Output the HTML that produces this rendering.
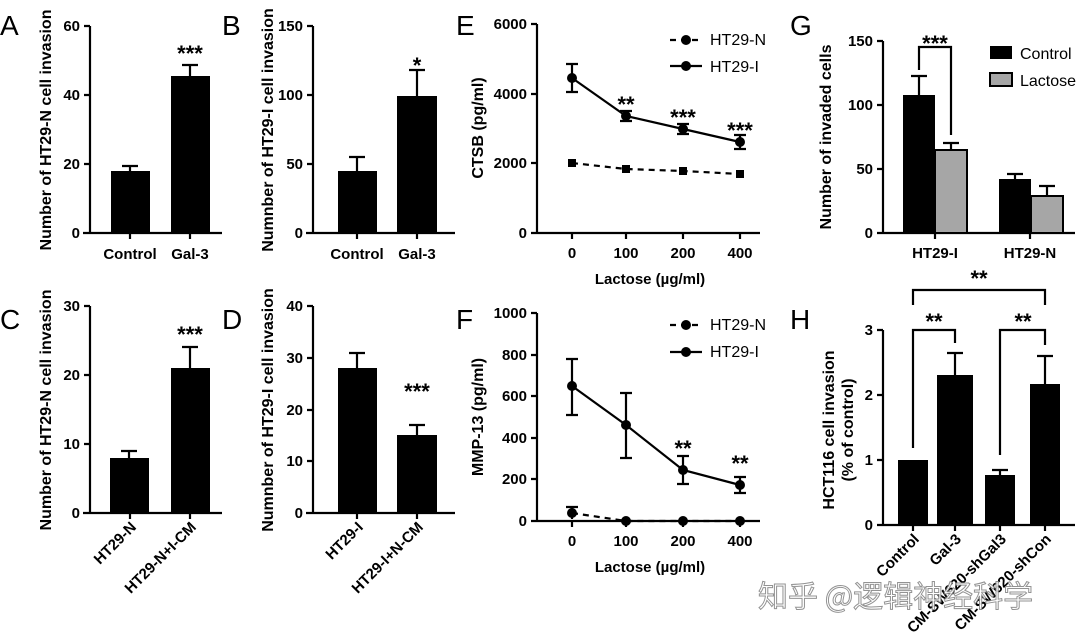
<!DOCTYPE html>
<html><head><meta charset="utf-8"><style>
body{margin:0;background:#fff}
svg{display:block;font-family:"Liberation Sans",Arial,sans-serif;font-weight:bold}
</style></head><body>
<svg width="1080" height="637" viewBox="0 0 1080 637" xmlns="http://www.w3.org/2000/svg">
<g font-weight="normal" font-size="28" fill="#000">
<text x="0" y="35">A</text><text x="222" y="35">B</text>
<text x="0" y="329">C</text><text x="222" y="329">D</text>
<text x="456" y="35">E</text><text x="456" y="329">F</text>
<text x="790" y="35">G</text><text x="790" y="329">H</text>
</g>
<g stroke="#000" stroke-width="2.2" fill="none">
<path d="M90 26V233M83 233H222M84 26H90M84 95H90M84 164H90M84 233H90M130 233v6M190 233v6"/>
<path d="M130 171V166M122 166H138M190 76V65M182 65H198"/>
<path d="M313 26V233M306 233H455M307 26H313M307 95H313M307 164H313M307 233H313M357 233v6M417 233v6"/>
<path d="M357 171V157M349 157H365M417 96V70M409 70H425"/>
<path d="M90 306V513M83 513H222M84 306H90M84 375H90M84 444H90M84 513H90M130 513v6M190 513v6"/>
<path d="M129 458V451M121 451H137M190 368V347M182 347H198"/>
<path d="M313 306V513M306 513H455M307 306H313M307 358H313M307 410H313M307 461H313M307 513H313M357 513v6M417 513v6"/>
<path d="M357 368V353M349 353H365M417 435V425M409 425H425"/>
<path d="M537 24V233M537 233H760M531 24H537M531 94H537M531 163H537M531 233H537M572 233v6M626 233v6M683 233v6M740 233v6"/>
<path d="M572 78L626 116L683 129L740 142"/>
<path d="M572 163L626 169L683 171L740 174" stroke-dasharray="6,5"/>
<path d="M572 64V92M566 64H578M566 92H578M626 111V121M620 111H632M620 121H632M683 124V134M677 124H689M677 134H689M740 135V149M734 135H746M734 149H746"/>
<path d="M670 40H702" stroke-dasharray="6,5"/><path d="M670 66H702"/>
<path d="M537 313V521M537 521H760M531 313H537M531 355H537M531 396H537M531 438H537M531 479H537M531 521H537M572 521v6M626 521v6M683 521v6M740 521v6"/>
<path d="M572 386L626 425L683 470L740 485"/>
<path d="M572 513L626 521L683 521L740 521" stroke-dasharray="6,5"/>
<path d="M572 359V415M566 359H578M566 415H578M626 393V458M620 393H632M620 458H632M683 456V484M677 456H689M677 484H689M740 477V493M734 477H746M734 493H746M572 507V519M566 507H578"/>
<path d="M670 325H702" stroke-dasharray="6,5"/><path d="M670 352H702"/>
<path d="M883 41V233M883 233H1075M877 41H883M877 105H883M877 169H883M877 233H883M935 233v6M1030 233v6"/>
<path d="M919 95V76M911 76H927M951 143V157M943 143H959M943 157H959M1015 179V174M1007 174H1023M1047 186V205M1039 186H1055M1039 205H1055"/>
<path d="M919 70V47H951V135"/>
<path d="M883 330V525M883 525H1075M877 330H883M877 395H883M877 460H883M877 525H883M913 525v6M955 525v6M1000 525v6M1045 525v6"/>
<path d="M955 375V353M947 353H963M1000 475V470M992 470H1008M1045 384V356M1037 356H1053"/>
<path d="M913 448V330H955V343M1000 455V330H1045V345M913 305V290H1045V305"/>
</g>
<g fill="#000">
<rect x="111" y="171" width="39" height="62"/><rect x="171" y="76" width="39" height="157"/>
<rect x="338" y="171" width="39" height="62"/><rect x="397" y="96" width="40" height="137"/>
<rect x="110" y="458" width="39" height="55"/><rect x="171" y="368" width="39" height="145"/>
<rect x="338" y="368" width="39" height="145"/><rect x="397" y="435" width="40" height="78"/>
<circle cx="572" cy="78" r="5"/><circle cx="626" cy="116" r="5"/><circle cx="683" cy="129" r="5"/><circle cx="740" cy="142" r="5"/>
<rect x="568" y="159" width="8" height="8"/><rect x="622" y="165" width="8" height="8"/><rect x="679" y="167" width="8" height="8"/><rect x="736" y="170" width="8" height="8"/>
<circle cx="686" cy="40" r="5"/><circle cx="686" cy="66" r="5"/>
<circle cx="572" cy="386" r="5"/><circle cx="626" cy="425" r="5"/><circle cx="683" cy="470" r="5"/><circle cx="740" cy="485" r="5"/>
<circle cx="572" cy="513" r="5"/><circle cx="626" cy="521" r="5"/><circle cx="683" cy="521" r="5"/><circle cx="740" cy="521" r="5"/>
<circle cx="686" cy="325" r="5"/><circle cx="686" cy="352" r="5"/>
<rect x="903" y="95" width="32" height="138"/><rect x="999" y="179" width="32" height="54"/>
<rect x="898" y="460" width="30" height="65"/><rect x="937" y="375" width="36" height="150"/><rect x="985" y="475" width="30" height="50"/><rect x="1030" y="384" width="30" height="141"/>
</g>
<g fill="#a6a6a6" stroke="#000" stroke-width="2">
<rect x="935" y="150" width="32" height="83"/><rect x="1031" y="196" width="32" height="37"/>
<rect x="990" y="73" width="22" height="13"/>
</g>
<rect x="990" y="46" width="22" height="13" fill="#000"/>
<g font-size="15" text-anchor="end">
<text x="80" y="31">60</text><text x="80" y="100">40</text><text x="80" y="169">20</text><text x="80" y="238">0</text>
<text x="303" y="31">150</text><text x="303" y="100">100</text><text x="303" y="169">50</text><text x="303" y="238">0</text>
<text x="80" y="311">30</text><text x="80" y="380">20</text><text x="80" y="449">10</text><text x="80" y="518">0</text>
<text x="303" y="311">40</text><text x="303" y="363">30</text><text x="303" y="415">20</text><text x="303" y="466">10</text><text x="303" y="518">0</text>
<text x="527" y="29">6000</text><text x="527" y="99">4000</text><text x="527" y="168">2000</text><text x="527" y="238">0</text>
<text x="527" y="318">1000</text><text x="527" y="360">800</text><text x="527" y="401">600</text><text x="527" y="443">400</text><text x="527" y="484">200</text><text x="527" y="526">0</text>
<text x="873" y="46">150</text><text x="873" y="110">100</text><text x="873" y="174">50</text><text x="873" y="238">0</text>
<text x="873" y="335">3</text><text x="873" y="400">2</text><text x="873" y="465">1</text><text x="873" y="530">0</text>
</g>
<g font-size="15" text-anchor="middle">
<text x="130" y="259">Control</text><text x="190" y="259">Gal-3</text>
<text x="357" y="259">Control</text><text x="417" y="259">Gal-3</text>
<text x="572" y="258">0</text><text x="626" y="258">100</text><text x="683" y="258">200</text><text x="740" y="258">400</text>
<text x="650" y="284">Lactose (µg/ml)</text>
<text x="572" y="546">0</text><text x="626" y="546">100</text><text x="683" y="546">200</text><text x="740" y="546">400</text>
<text x="650" y="572">Lactose (µg/ml)</text>
<text x="935" y="258">HT29-I</text><text x="1030" y="258">HT29-N</text>
</g>
<g font-size="15" text-anchor="end">
<text transform="translate(137,528) rotate(-45)">HT29-N</text>
<text transform="translate(197,528) rotate(-45)">HT29-N+I-CM</text>
<text transform="translate(364,528) rotate(-45)">HT29-I</text>
<text transform="translate(424,528) rotate(-45)">HT29-I+N-CM</text>
<text transform="translate(920,540) rotate(-45)">Control</text>
<text transform="translate(962,540) rotate(-45)">Gal-3</text>
<text transform="translate(1007,540) rotate(-45)">CM-SW620-shGal3</text>
<text transform="translate(1052,540) rotate(-45)">CM-SW620-shCon</text>
</g>
<g font-size="16" text-anchor="middle">
<text transform="translate(51,130) rotate(-90)">Number of HT29-N cell invasion</text>
<text transform="translate(273,130) rotate(-90)">Numnber of HT29-I cell invasion</text>
<text transform="translate(51,410) rotate(-90)">Number of HT29-N cell invasion</text>
<text transform="translate(273,410) rotate(-90)">Numnber of HT29-I cell invasion</text>
<text transform="translate(483,128) rotate(-90)">CTSB (pg/ml)</text>
<text transform="translate(483,417) rotate(-90)">MMP-13 (pg/ml)</text>
<text transform="translate(831,137) rotate(-90)">Number of invaded cells</text>
<text transform="translate(834,430) rotate(-90)">HCT116 cell invasion</text>
<text transform="translate(853,430) rotate(-90)">(% of control)</text>
</g>
<g font-size="22" text-anchor="middle">
<text x="190" y="61">***</text><text x="417" y="73">*</text>
<text x="190" y="342">***</text><text x="417" y="399">***</text>
<text x="626" y="112">**</text><text x="683" y="125">***</text><text x="740" y="138">***</text>
<text x="683" y="456">**</text><text x="740" y="471">**</text>
<text x="935" y="51">***</text>
<text x="979" y="286">**</text><text x="934" y="329">**</text><text x="1023" y="329">**</text>
</g>
<g font-size="16" font-weight="normal">
<text x="710" y="45">HT29-N</text><text x="710" y="72">HT29-I</text>
<text x="710" y="330">HT29-N</text><text x="710" y="357">HT29-I</text>
<text x="1020" y="59">Control</text><text x="1020" y="86">Lactose</text>
</g>
<text x="758" y="607" font-size="30" font-weight="normal" fill="#fff" stroke="#888" stroke-width="1" opacity="0.9" font-family="'Noto Sans CJK SC',sans-serif">知乎 @逻辑神经科学</text>
</svg>
</body></html>
